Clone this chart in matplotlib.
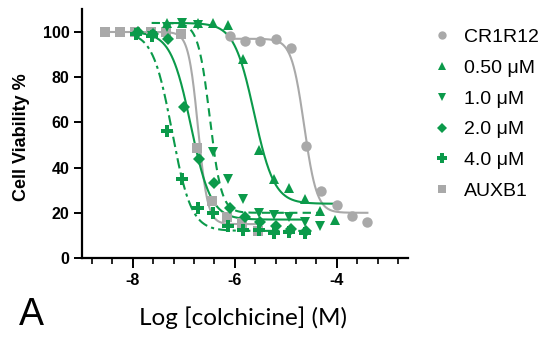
import matplotlib
matplotlib.use("Agg")
import matplotlib.pyplot as plt
from matplotlib.lines import Line2D
from matplotlib.ticker import MultipleLocator, FixedLocator
import numpy as np

# log [colchicine] (M) and % viability
cr1r12_x = [-6.10, -5.80, -5.50, -5.20, -4.90, -4.60, -4.30, -4.00, -3.70, -3.40]
cr1r12_y = [98, 96, 96, 97, 93, 49.5, 29.5, 23.5, 18.5, 16]

um050_x = [-7.33, -7.03, -6.73, -6.43, -6.13, -5.83, -5.53, -5.23, -4.93, -4.63, -4.33, -4.03]
um050_y = [104, 104, 104, 104, 103, 88, 48, 35, 31, 26, 21, 17]

um10_x = [-7.63, -7.33, -7.03, -6.73, -6.43, -6.13, -5.83, -5.53, -5.23, -4.93, -4.63, -4.33]
um10_y = [98, 102, 104, 103, 47, 35, 26, 20, 19, 18, 16, 14]

um20_x = [-7.90, -7.60, -7.30, -7.00, -6.70, -6.40, -6.10, -5.80, -5.50, -5.20, -4.90, -4.60]
um20_y = [100, 99, 97, 67, 44, 33, 22, 18, 16, 14, 13, 12]

um40_x = [-7.93, -7.63, -7.33, -7.03, -6.73, -6.43, -6.13, -5.83, -5.53, -5.23, -4.93, -4.63]
um40_y = [99, 98, 56, 35, 22, 20, 14, 12.5, 12.5, 11, 11.5, 11]

auxb1_x = [-8.55, -8.25, -7.95, -7.65, -7.35, -7.05, -6.75, -6.45, -6.15, -5.85, -5.55]
auxb1_y = [100, 100, 100, 100, 100, 99, 48.5, 25, 18, 15.5, 12]

# four-parameter logistic fits as drawn: top, bottom, logIC50, hill slope
fit_top = [97, 104, 104, 100, 100, 100]
fit_bottom = [20, 24, 20, 17, 12, 15]
fit_logic50 = [-4.64, -5.62, -6.49, -6.86, -7.23, -6.72]
fit_hill = [3.5, 2.2, 3.8, 2.2, 2.3, 4.6]

labels = ["CR1R12", "0.50 μM", "1.0 μM", "2.0 μM", "4.0 μM", "AUXB1"]

GREEN = "#0b9a4a"
GRAY = "#a9a9a9"

series = [
    (cr1r12_x, cr1r12_y, "o", GRAY, "-", 7.5),
    (um050_x, um050_y, "^", GREEN, "-", 7.5),
    (um10_x, um10_y, "v", GREEN, (0, (4, 2.5)), 7.5),
    (um20_x, um20_y, "D", GREEN, "-", 6.3),
    (um40_x, um40_y, "P", GREEN, (0, (5, 2, 1.5, 2)), 8.5),
    (auxb1_x, auxb1_y, "s", GRAY, "-", 6.8),
]


def logistic(x, top, bottom, logic50, hill):
    return bottom + (top - bottom) / (1 + 10 ** (hill * (x - logic50)))


fig = plt.figure(figsize=(5.45, 3.42), dpi=100)
ax = fig.add_axes([0.150, 0.2456, 0.599, 0.727])

draw_order = [0, 5, 1, 2, 3, 4]
for i in draw_order:
    xs, ys, mk, col, ls, ms = series[i]
    xx = np.linspace(min(xs), max(xs), 300)
    ax.plot(xx, logistic(xx, fit_top[i], fit_bottom[i], fit_logic50[i], fit_hill[i]),
            color=col, lw=1.5, ls=ls, zorder=2)
for i in draw_order:
    xs, ys, mk, col, ls, ms = series[i]
    ax.plot(xs, ys, ls="none", marker=mk, color=col, ms=ms, mew=0, zorder=3)

ax.set_xlim(-9, -2.6)
ax.set_ylim(0, 110)
ax.xaxis.set_major_locator(FixedLocator([-8, -6, -4]))
ax.xaxis.set_minor_locator(MultipleLocator(0.4))
ax.yaxis.set_major_locator(FixedLocator([0, 20, 40, 60, 80, 100]))
for s in ["top", "right"]:
    ax.spines[s].set_visible(False)
for s in ["left", "bottom"]:
    ax.spines[s].set_linewidth(1.6)
ax.tick_params(axis="both", which="major", direction="out", width=1.4, length=6,
               labelsize=11.5, pad=3)
ax.tick_params(axis="x", which="major", length=7, pad=4)
ax.tick_params(axis="x", which="minor", direction="out", width=1.2, length=4)
for lab in ax.get_xticklabels() + ax.get_yticklabels():
    lab.set_fontfamily("Liberation Sans")
    lab.set_fontweight("bold")
ax.set_xticklabels(["-8", "-6", "-4"], fontfamily="Liberation Sans", fontweight="bold")

fig.text(0.04, 0.6, "Cell Viability %", fontfamily="Liberation Sans", fontweight="bold",
         fontsize=13, rotation=90, ha="center", va="center")
fig.text(0.445, 0.05, "Log [colchicine] (M)", fontfamily="Lato", fontsize=17.5,
         ha="center", va="baseline")
fig.text(0.035, 0.05, "A", fontfamily="Liberation Sans", fontsize=27,
         ha="left", va="baseline")

handles = [Line2D([], [], ls="none", marker=s[2], color=s[3], ms=s[5] * 0.8, mew=0)
           for s in series]
fig.legend(handles, labels, loc="upper left", bbox_to_anchor=(0.775, 0.94),
           frameon=False, prop={"family": "Liberation Sans", "size": 14},
           handletextpad=0.55, labelspacing=0.68, handlelength=1.2, borderaxespad=0)

fig.savefig("out.png", dpi=100)
